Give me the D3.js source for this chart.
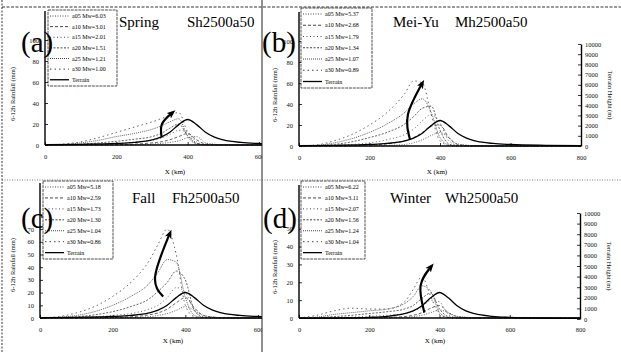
<!DOCTYPE html>
<html>
<head>
<meta charset="utf-8">
<script src="https://cdn.jsdelivr.net/npm/d3@7"></script>
<style>
  body { margin: 0; background: #fff; }
  svg { display: block; font-family: "Liberation Serif", "Times New Roman", serif; }
</style>
</head>
<body>
<svg id="fig" width="621" height="352"></svg>
<script>
const xKm = [0, 50, 100, 150, 200, 250, 300, 325, 350, 375, 400, 425, 450, 500, 600, 800];
const seriesNames = ['a05', 'a10', 'a15', 'a20', 'a25', 'a30'];

// moist Froude-like numbers shown in the legends
const springMw = [6.03, 3.01, 2.01, 1.51, 1.21, 1.00];
const meiyuMw = [5.37, 2.68, 1.79, 1.34, 1.07, 0.89];
const fallMw = [5.18, 2.59, 1.73, 1.30, 1.04, 0.86];
const winterMw = [6.22, 3.11, 2.07, 1.56, 1.24, 1.04];

// 6-12h rainfall (mm), one row per series
const springRain = [
  [0, 0, 0, 0, 0, 0.2, 0.8, 1.5, 2.5, 4, 7, 8, 2, 0.3, 0, 0],
  [0, 0, 0, 0, 0.3, 0.8, 2, 3, 5, 8, 11, 5, 1, 0.2, 0, 0],
  [0, 0, 0.2, 0.6, 1.2, 2.5, 4.5, 6.5, 10, 14, 12, 3, 0.5, 0, 0, 0],
  [0, 0.2, 0.8, 2, 3.5, 5.5, 8, 11, 16, 20, 9, 1.5, 0.2, 0, 0, 0],
  [0, 0.4, 2, 4.5, 8, 11, 15, 18, 22, 25, 8, 1, 0, 0, 0, 0],
  [0, 0.8, 3, 7, 12, 17, 22, 25, 28, 31, 12, 2, 0.3, 0, 0, 0]
];
const meiyuRain = [
  [0, 0, 0, 0, 0.2, 0.5, 1.5, 3, 6, 10, 13, 8, 2, 0.3, 0, 0],
  [0, 0, 0, 0.3, 1, 2, 5, 8, 13, 19, 20, 8, 1.5, 0.2, 0, 0],
  [0, 0.1, 0.5, 1.5, 3, 6, 11, 16, 24, 30, 22, 5, 0.8, 0, 0, 0],
  [0, 0.3, 1.5, 4, 8, 13, 21, 28, 36, 38, 15, 2, 0.3, 0, 0, 0],
  [0, 0.5, 3, 7, 13, 21, 32, 40, 45, 32, 8, 1, 0, 0, 0, 0],
  [0, 1, 5, 11, 20, 32, 50, 62, 60, 30, 5, 0.5, 0, 0, 0, 0]
];
const fallRain = [
  [0, 0, 0, 0, 0, 0.3, 1, 2, 3.5, 6, 9, 6, 2, 0.3, 0, 0],
  [0, 0, 0, 0.2, 0.5, 1, 2.5, 4, 7, 12, 16, 8, 2, 0.3, 0, 0],
  [0, 0, 0.3, 1, 2, 3.5, 7, 10, 16, 24, 20, 6, 1, 0, 0, 0],
  [0, 0.2, 1, 2.5, 5, 9, 15, 21, 28, 37, 30, 6, 0.5, 0, 0, 0],
  [0, 0.5, 2, 5, 10, 17, 27, 36, 46, 44, 16, 2, 0.3, 0, 0, 0],
  [0, 1, 4, 9, 17, 28, 45, 58, 70, 50, 10, 1, 0, 0, 0, 0]
];
const winterRain = [
  [0, 0, 0, 0, 0, 0.1, 0.4, 0.8, 1.5, 3, 4.5, 3, 1, 0.2, 0, 0],
  [0, 0, 0, 0, 0.1, 0.3, 0.8, 1.5, 3, 5.5, 7, 3, 0.8, 0.1, 0, 0],
  [0, 0, 0.2, 0.5, 1, 1.5, 2.5, 4, 6, 10, 9, 2, 0.3, 0, 0, 0],
  [0, 0.2, 0.8, 1.5, 2.5, 3.5, 5, 7, 11, 14, 5, 0.8, 0, 0, 0, 0],
  [0, 0.5, 2, 3, 4, 5, 8, 12, 18, 15, 3, 0.3, 0, 0, 0, 0],
  [0, 1.5, 4, 5.5, 5, 5, 9, 16, 23, 12, 2, 0.2, 0, 0, 0, 0]
];

// bell shaped terrain (m)
const terrainKm = [0, 100, 200, 250, 300, 325, 350, 375, 400, 425, 450, 475, 500, 550, 600, 700, 800];
const terrainM = [40, 70, 150, 250, 500, 770, 1250, 2000, 2500, 2000, 1250, 770, 500, 250, 150, 70, 40];

// trend arrows, [km, mm]
const springArrow = [[327, 7], [328, 20], [358, 31]];
const meiyuArrow = [[315, 6], [309, 30], [350, 60]];
const fallArrow = [[339, 17], [317, 33], [358, 67]];
const winterArrow = [[357, 3], [346, 18], [377, 29]];

const kmTicks = [0, 200, 400, 600, 800];
const rainTicksAB = [0, 20, 40, 60, 80, 100];
const rainTicksC = [0, 10, 20, 30, 40, 50, 60, 70];
const rainTicksD = [0, 10, 20, 30, 40, 50];
const heightTicks = [0, 1000, 2000, 3000, 4000, 5000, 6000, 7000, 8000, 9000, 10000];

const dashes = ['1,1.5', '3,2', '1,2.5', '2,1.5', '1,1', '1.5,3'];

const panels = [
  { id: 'a', season: 'Spring', code: 'Sh2500a50', mw: springMw, rain: springRain, arrow: springArrow,
    yTicks: rainTicksAB, yMax: 120, box: [0, 0, 262, 178], xr: [45, 259], xMax: 600, yr: [145, 19], hr: [145, 43],
    right: false, title: [119, 187, 27], letter: [21, 52], legend: [48, 10, 117, 86], ylab: [15, 94], xlab: [175, 174] },
  { id: 'b', season: 'Mei-Yu', code: 'Mh2500a50', mw: meiyuMw, rain: meiyuRain, arrow: meiyuArrow,
    yTicks: rainTicksAB, yMax: 120, box: [262, 0, 621, 178], xr: [299, 581], xMax: 800, yr: [146, 20], hr: [146, 44],
    right: true, title: [393, 455, 27], letter: [262, 52], legend: [301, 8, 372, 88], ylab: [277, 95], xlab: [437, 174] },
  { id: 'c', season: 'Fall', code: 'Fh2500a50', mw: fallMw, rain: fallRain, arrow: fallArrow,
    yTicks: rainTicksC, yMax: 100, box: [0, 178, 262, 352], xr: [40, 258], xMax: 600, yr: [318, 191], hr: [318, 216],
    right: false, title: [132, 172, 203], letter: [21, 228], legend: [43, 181, 113, 259], ylab: [15, 265], xlab: [173, 343] },
  { id: 'd', season: 'Winter', code: 'Wh2500a50', mw: winterMw, rain: winterRain, arrow: winterArrow,
    yTicks: rainTicksD, yMax: 70, box: [262, 178, 621, 352], xr: [299, 580], xMax: 800, yr: [318, 193], hr: [319, 213],
    right: true, title: [390, 445, 203], letter: [263, 228], legend: [301, 181, 365, 259], ylab: [277, 267], xlab: [435, 343] }
];

const svg = d3.select('#fig');
svg.append('rect').attr('width', 621).attr('height', 352).attr('fill', '#fff');
const defs = svg.append('defs');

defs.append('marker')
  .attr('id', 'head')
  .attr('viewBox', '0 0 10 8')
  .attr('refX', 6).attr('refY', 4)
  .attr('markerWidth', 4).attr('markerHeight', 3.4)
  .attr('orient', 'auto')
  .append('path')
  .attr('d', 'M0,0L10,4L0,8L2.5,4Z')
  .attr('fill', '#000');

panels.forEach(p => {
  defs.append('clipPath').attr('id', 'panel-' + p.id)
    .append('rect')
    .attr('x', p.box[0]).attr('y', p.box[1])
    .attr('width', p.box[2] - p.box[0]).attr('height', p.box[3] - p.box[1]);

  const x = d3.scaleLinear().domain([0, p.xMax]).range(p.xr);
  const y = d3.scaleLinear().domain([0, p.yMax]).range(p.yr);
  const h = d3.scaleLinear().domain([0, 10000]).range(p.hr);
  const plotRight = p.right ? p.xr[1] : p.box[2];

  defs.append('clipPath').attr('id', 'plot-' + p.id)
    .append('rect')
    .attr('x', p.xr[0]).attr('y', p.yr[1] - 10)
    .attr('width', plotRight - p.xr[0]).attr('height', p.yr[0] - p.yr[1] + 11);

  const g = svg.append('g').attr('clip-path', `url(#panel-${p.id})`);
  const plot = g.append('g').attr('clip-path', `url(#plot-${p.id})`);

  const rainLine = d3.line()
    .x(d => x(d[0]))
    .y(d => y(Math.max(0, d[1])))
    .curve(d3.curveMonotoneX);

  p.rain.forEach((row, i) => {
    plot.append('path')
      .datum(xKm.map((k, j) => [k, row[j]]))
      .attr('d', rainLine)
      .attr('fill', 'none')
      .attr('stroke', '#555')
      .attr('stroke-width', 0.9)
      .attr('stroke-dasharray', dashes[i]);
  });

  const terrainLine = d3.line()
    .x(d => x(d[0]))
    .y(d => h(d[1]))
    .curve(d3.curveMonotoneX);

  plot.append('path')
    .datum(terrainKm.map((k, j) => [k, terrainM[j]]))
    .attr('d', terrainLine)
    .attr('fill', 'none')
    .attr('stroke', '#000')
    .attr('stroke-width', 1.3);

  // axes
  const xAxis = g.append('g')
    .attr('transform', `translate(0,${p.yr[0]})`)
    .call(d3.axisBottom(x).tickValues(kmTicks.filter(t => t <= p.xMax)).tickSize(-3).tickSizeOuter(0).tickPadding(9));
  xAxis.select('.domain').attr('d', `M${p.xr[0]},0H${plotRight}`);

  const yAxis = g.append('g')
    .attr('transform', `translate(${p.xr[0]},0)`)
    .call(d3.axisLeft(y).tickValues(p.yTicks).tickSize(-3).tickSizeOuter(0).tickPadding(6));
  yAxis.select('.domain').attr('d', `M0,${p.yr[0]}V${p.yr[1] - 8}`);

  if (p.right) {
    g.append('g')
      .attr('transform', `translate(${p.xr[1]},0)`)
      .call(d3.axisRight(h).tickValues(heightTicks).tickFormat(d3.format('d'))
        .tickSize(-3).tickSizeOuter(0).tickPadding(4));

    g.append('text')
      .attr('transform', `translate(${p.xr[1] + 27},${(p.hr[0] + p.hr[1]) / 2}) rotate(90)`)
      .attr('text-anchor', 'middle')
      .attr('font-size', 6.5)
      .text('Terrain Height (m)');
  }

  g.selectAll('.domain').attr('stroke', '#000').attr('stroke-width', 1.4);
  g.selectAll('.tick line').attr('stroke', '#000').attr('stroke-width', 0.8);
  g.selectAll('.tick text').attr('font-size', 6.5).attr('font-family', '"Liberation Serif", serif').attr('fill', '#111');

  g.append('text')
    .attr('x', p.xlab[0]).attr('y', p.xlab[1])
    .attr('text-anchor', 'middle')
    .attr('font-size', 7)
    .text('X (km)');

  g.append('text')
    .attr('transform', `translate(${p.ylab[0]},${p.ylab[1]}) rotate(-90)`)
    .attr('text-anchor', 'middle')
    .attr('font-size', 6.5)
    .text('6-12h Rainfall (mm)');

  // legend
  const [lx0, ly0, lx1, ly1] = p.legend;
  const lg = g.append('g');
  lg.append('rect')
    .attr('x', lx0).attr('y', ly0)
    .attr('width', lx1 - lx0).attr('height', ly1 - ly0)
    .attr('fill', '#fff')
    .attr('stroke', '#222')
    .attr('stroke-width', 0.8)
    .attr('stroke-dasharray', '3,0.8');
  const rowH = (ly1 - ly0 - 8) / 6.4;
  seriesNames.concat(['Terrain']).forEach((name, i) => {
    const yy = ly0 + 6 + i * rowH;
    lg.append('line')
      .attr('x1', lx0 + 2).attr('x2', lx0 + 21)
      .attr('y1', yy).attr('y2', yy)
      .attr('stroke', i < 6 ? '#444' : '#000')
      .attr('stroke-width', i < 6 ? 1 : 1.3)
      .attr('stroke-dasharray', i < 6 ? dashes[i] : null);
    lg.append('text')
      .attr('x', lx0 + 24).attr('y', yy + 2)
      .attr('font-size', 6)
      .text(i < 6 ? `${name}  Mw=${p.mw[i].toFixed(2)}` : name);
  });

  // trend arrow
  const arrowLine = d3.line()
    .x(d => x(d[0]))
    .y(d => y(d[1]))
    .curve(d3.curveNatural);
  g.append('path')
    .datum(p.arrow)
    .attr('d', arrowLine)
    .attr('fill', 'none')
    .attr('stroke', '#000')
    .attr('stroke-width', 2.2)
    .attr('marker-end', 'url(#head)');

  // title and panel letter
  g.append('text')
    .attr('x', p.title[0]).attr('y', p.title[2])
    .attr('font-size', 15)
    .text(p.season);
  g.append('text')
    .attr('x', p.title[1]).attr('y', p.title[2])
    .attr('font-size', 15)
    .text(p.code);
  g.append('text')
    .attr('x', p.letter[0]).attr('y', p.letter[1])
    .attr('font-size', 29)
    .text(`(${p.id})`);
});

// scanned figure frame
const frame = svg.append('g').attr('fill', 'none');
frame.append('line').attr('x1', 2).attr('x2', 2).attr('y1', 0).attr('y2', 352)
  .attr('stroke', '#333').attr('stroke-width', 1).attr('stroke-dasharray', '2,1.5');
frame.append('line').attr('x1', 262).attr('x2', 262).attr('y1', 0).attr('y2', 352)
  .attr('stroke', '#222').attr('stroke-width', 1);
frame.append('line').attr('x1', 2).attr('x2', 621).attr('y1', 7).attr('y2', 7)
  .attr('stroke', '#333').attr('stroke-width', 1).attr('stroke-dasharray', '3,1.5');
frame.append('line').attr('x1', 2).attr('x2', 621).attr('y1', 180).attr('y2', 180)
  .attr('stroke', '#555').attr('stroke-width', 0.8).attr('stroke-dasharray', '1,1.5');
</script>
</body>
</html>
